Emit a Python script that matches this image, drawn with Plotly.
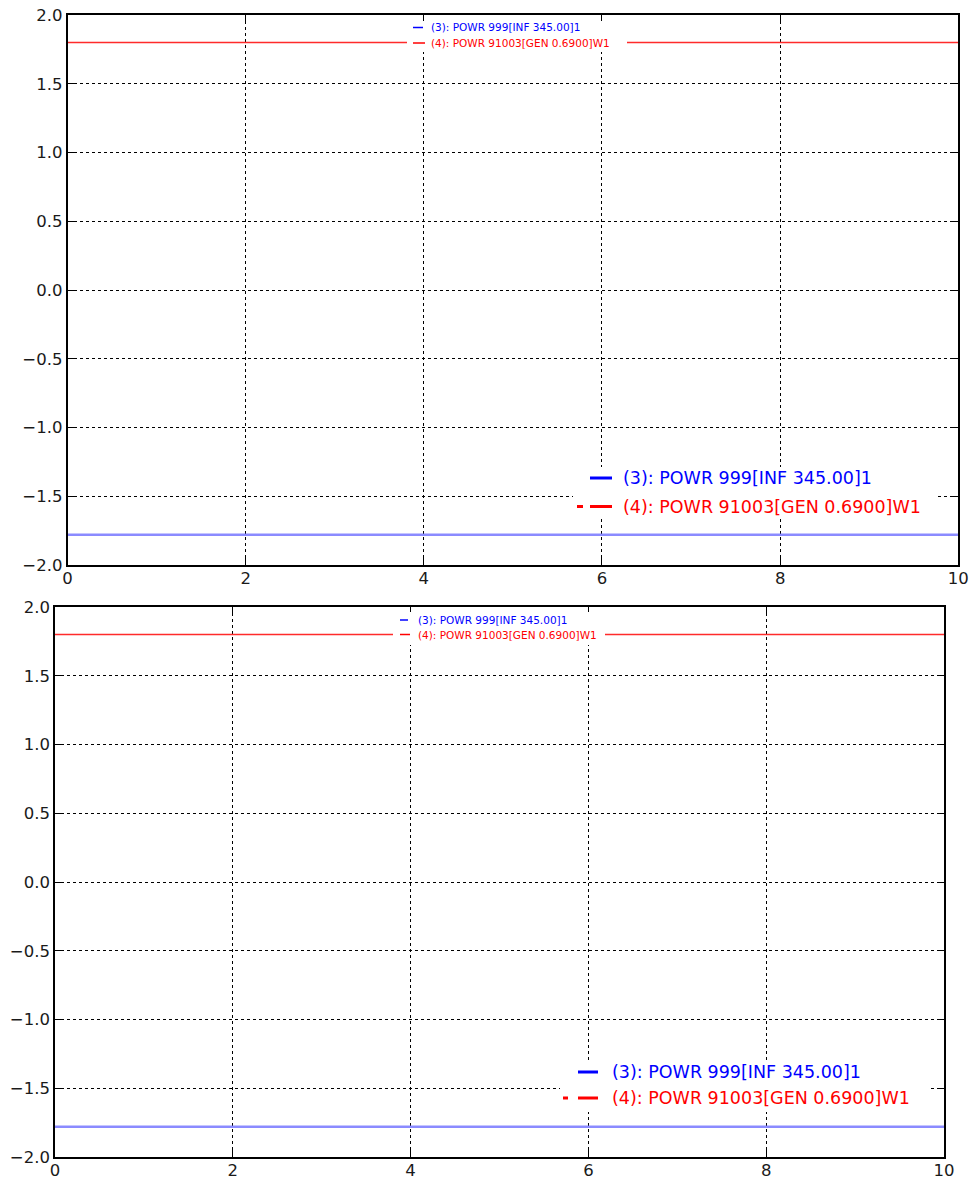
import plotly.graph_objects as go

# ---- data ----
x_span = [0, 10]
red_y = [1.8, 1.8]          # (4): POWR 91003[GEN 0.6900]W1
blue_y = [-1.78, -1.78]     # (3): POWR 999[INF 345.00]1
series_names = ["(3): POWR 999[INF 345.00]1", "(4): POWR 91003[GEN 0.6900]W1"]
series_colors = ["#0000ff", "#ff0000"]
x_ticks = [0, 2, 4, 6, 8, 10]
y_ticks = [-2.0, -1.5, -1.0, -0.5, 0.0, 0.5, 1.0, 1.5, 2.0]

W, H = 971, 1181
def px(x):
    return x / W
def py(y):
    return 1 - y / H

FONT = "DejaVu Sans"
fig = go.Figure()

# panels: (xaxis id, yaxis id, x-domain px, y-domain px)
panels = [
    ("x", "y", (67.5, 958.3), (15, 565)),
    ("x2", "y2", (55, 944), (607, 1157)),
]

for xa, ya, _, _ in panels:
    fig.add_trace(go.Scatter(x=x_span, y=red_y, mode="lines", name=series_names[1],
                             line=dict(color="rgba(255,20,20,0.9)", width=1.6),
                             xaxis=xa, yaxis=ya, showlegend=False, hoverinfo="skip"))
    fig.add_trace(go.Scatter(x=x_span, y=blue_y, mode="lines", name=series_names[0],
                             line=dict(color="rgba(110,110,255,0.8)", width=2.6),
                             xaxis=xa, yaxis=ya, showlegend=False, hoverinfo="skip"))

axis_common = dict(
    showline=True, linecolor="black", linewidth=1.5, mirror="ticks",
    ticks="inside", ticklen=7, tickwidth=1, tickcolor="black",
    showgrid=True, gridcolor="black", gridwidth=1, griddash="dot",
    zeroline=False, automargin=False,
    tickfont=dict(family=FONT, size=16.5, color="#1a1a1a"),
)

layout = dict(
    width=W, height=H, margin=dict(l=0, r=0, t=0, b=0, pad=0),
    paper_bgcolor="white", plot_bgcolor="white", showlegend=False,
)
for i, (xa, ya, (x0, x1), (y0, y1)) in enumerate(panels):
    xk = "xaxis" if i == 0 else "xaxis%d" % (i + 1)
    yk = "yaxis" if i == 0 else "yaxis%d" % (i + 1)
    layout[xk] = dict(axis_common, domain=[px(x0), px(x1)], range=[0, 10],
                      tickvals=x_ticks, ticktext=[str(v) for v in x_ticks], anchor=ya,
                      ticklabelstandoff=-3)
    layout[yk] = dict(axis_common, domain=[py(y1), py(y0)], range=[-2, 2],
                      tickvals=y_ticks, tickformat=".1f", anchor=xa)
fig.update_layout(**layout)

shapes = []
annotations = []

def legend(box, rows, text_x, fsize, glyph_w, extra_dash=None):
    bx0, bx1, by0, by1 = box
    shapes.append(dict(type="rect", xref="paper", yref="paper", layer="above",
                       x0=px(bx0), x1=px(bx1), y0=py(by1), y1=py(by0),
                       fillcolor="white", line=dict(width=0)))
    for (gx0, gx1, gy), name, col, i in zip(rows, series_names, series_colors, range(2)):
        shapes.append(dict(type="line", xref="paper", yref="paper", layer="above",
                           x0=px(gx0), x1=px(gx1), y0=py(gy), y1=py(gy),
                           line=dict(color=col, width=glyph_w)))
        if i == 1 and extra_dash is not None:
            shapes.append(dict(type="line", xref="paper", yref="paper", layer="above",
                               x0=px(extra_dash[0]), x1=px(extra_dash[1]), y0=py(gy), y1=py(gy),
                               line=dict(color=col, width=glyph_w)))
        annotations.append(dict(xref="paper", yref="paper", x=px(text_x), y=py(gy),
                                xanchor="left", yanchor="middle", showarrow=False,
                                text=name, font=dict(family=FONT, size=fsize, color=col)))

# top panel legends
legend((407, 627, 21, 52), [(413, 423, 27.5), (413, 425, 43)], 429, 10.5, 1.5)
legend((573, 938, 467, 519), [(590, 612, 478), (590, 612, 506.5)], 621, 17.5, 3, extra_dash=(577, 583))
# bottom panel legends
legend((393, 605, 612, 645), [(400, 408, 620), (400, 410, 634.5)], 416, 10.5, 1.5)
legend((560, 930, 1062, 1112), [(578, 598, 1072), (578, 598, 1098)], 610, 17.5, 3, extra_dash=(563, 568))

fig.update_layout(shapes=shapes, annotations=annotations)
fig.write_html("out.html",
               config={"displayModeBar": False},
               post_script="document.body.style.margin='0';document.body.style.overflow='hidden';")
